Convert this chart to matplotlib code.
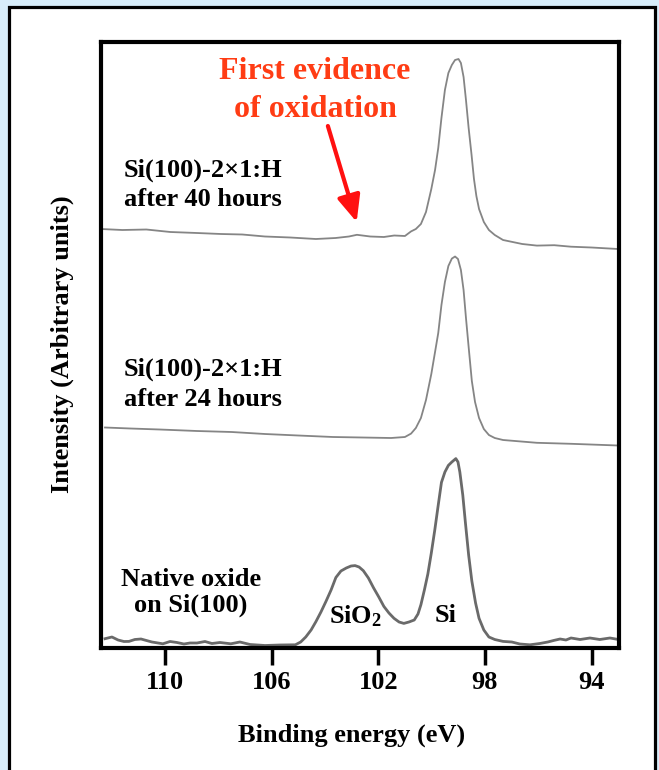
import numpy as np
import matplotlib.pyplot as plt
from matplotlib.patches import Rectangle

# XPS Si 2p spectra (intensidad en unidades arbitrarias)
ev_40h = [112.40, 111.60, 110.70, 109.80, 108.80, 107.90, 107.10, 106.25, 105.30,
          104.34, 103.60, 103.10, 102.80, 102.30, 101.79, 101.40, 101.00, 100.77,
          100.59, 100.40, 100.21, 100.01, 99.87, 99.75, 99.63, 99.50, 99.37,
          99.24, 99.12, 98.99, 98.90, 98.80, 98.71, 98.61, 98.50, 98.41, 98.32,
          98.22, 98.04, 97.85, 97.63, 97.32, 96.60, 96.05, 95.40, 94.77, 94.00, 93.01]
int_40h = [419, 418, 418.5, 416, 415, 414, 413.5, 411.5, 410.5,
           409, 410, 411.5, 413.2, 411.5, 411, 412.5, 412, 416.6,
           419, 424, 436, 459, 478, 500, 530, 558, 575,
           583, 588, 589, 585, 571, 548, 520, 493, 469, 452,
           439, 426, 418, 413, 408, 404, 402.4, 402.8, 401.3, 400.5, 399]

ev_24h = [112.25, 111.30, 110.20, 108.80, 107.50, 106.25, 105.00, 103.70, 102.60,
          101.52, 101.00, 100.77, 100.59, 100.40, 100.21, 100.01, 99.87, 99.75,
          99.63, 99.50, 99.37, 99.24, 99.12, 99.01, 98.90, 98.80, 98.71, 98.61,
          98.49, 98.37, 98.22, 98.04, 97.85, 97.63, 97.32, 96.05, 94.77, 93.01]
int_24h = [220.5, 219.5, 218.5, 217, 216, 214, 212.5, 211, 210.5,
           210, 211, 214.4, 220, 230, 248, 274, 296, 315,
           343, 366, 382, 389.4, 391.5, 389, 378, 358, 330, 301,
           267, 246, 230, 219, 213, 210, 208, 205.2, 204.2, 202.5]

ev_native = [112.25, 111.99, 111.76, 111.54, 111.35, 111.13, 110.90, 110.71, 110.49,
             110.26, 110.08, 109.81, 109.55, 109.29, 109.06, 108.80, 108.50, 108.24,
             107.94, 107.53, 107.19, 106.81, 106.25, 105.69, 105.11, 104.91, 104.72,
             104.52, 104.34, 104.15, 103.96, 103.77, 103.59, 103.40, 103.20, 103.02,
             102.87, 102.72, 102.56, 102.37, 102.18, 101.98, 101.79, 101.60, 101.41,
             101.22, 101.04, 100.85, 100.65, 100.51, 100.40, 100.27, 100.14, 100.01,
             99.88, 99.75, 99.63, 99.50, 99.37, 99.24, 99.09, 99.01, 98.94, 98.83,
             98.73, 98.61, 98.49, 98.35, 98.22, 98.04, 97.85, 97.63, 97.32, 96.99,
             96.69, 96.31, 95.94, 95.64, 95.41, 95.18, 94.96, 94.77, 94.43, 94.06,
             93.69, 93.31, 93.01]
int_native = [9.3, 11, 8, 6.5, 6.6, 8.5, 9, 7.6, 6,
              5, 4.2, 6.5, 5.5, 4, 5, 5, 6.5, 4.5,
              5.5, 4.2, 6, 3.5, 2.5, 3, 3.2, 6, 11,
              18, 26.3, 36, 46.7, 58, 70.5, 77, 80, 82,
              82.4, 81, 77.3, 70, 60.3, 51, 41.6, 35, 29.7,
              26, 24.6, 26, 28, 34, 43.3, 58, 74, 95,
              118, 143, 165.6, 176, 182.6, 186, 189.4, 186, 176, 153,
              125, 93, 67, 45, 29.7, 18, 11, 8.5, 6.6, 6,
              4, 3.2, 4.5, 6, 7.6, 9, 8, 10, 8.5, 10,
              8.5, 10, 8.6]

xticks = [110, 106, 102, 98, 94]

plt.rcParams['font.family'] = ['Liberation Serif', 'DejaVu Serif']
plt.rcParams['font.weight'] = 'bold'
plt.rcParams['mathtext.fontset'] = 'custom'
plt.rcParams['mathtext.rm'] = 'Liberation Serif:bold'
plt.rcParams['mathtext.it'] = 'Liberation Serif:bold'
plt.rcParams['mathtext.bf'] = 'Liberation Serif:bold'

fig = plt.figure(figsize=(6.59, 7.70), dpi=100, facecolor='#d7edfa')

# marco blanco con borde negro
fig.patches.append(Rectangle((9 / 659, -0.05), 646 / 659, 1.05 - 7 / 770,
                             transform=fig.transFigure, facecolor='white',
                             edgecolor='black', linewidth=2.3, zorder=-5))

ax = fig.add_axes([101 / 659, 1 - 648 / 770, 518 / 659, 606 / 770])
ax.set_zorder(2)

ax.plot(ev_40h, int_40h, color='#858585', lw=1.3, solid_joinstyle='round')
ax.plot(ev_24h, int_24h, color='#858585', lw=1.3, solid_joinstyle='round')
ax.plot(ev_native, int_native, color='#6a6a6a', lw=2.0, solid_joinstyle='round')

ax.set_xlim(112.40, 92.97)
ax.set_ylim(0, 606)
ax.set_xticks(xticks)
ax.set_xticklabels([str(t) for t in xticks])
ax.set_yticks([])
ax.tick_params(axis='x', direction='out', length=12, width=2.5, pad=4.5,
               labelsize=19)
for s in ax.spines.values():
    s.set_linewidth(3)

fs = 19
ax.text(111.54, 471.5, 'Si(100)-2\u00d71:H', fontsize=fs, va='baseline', ha='left')
ax.text(111.54, 442, 'after 40 hours', fontsize=fs, va='baseline', ha='left')
ax.text(111.54, 272, 'Si(100)-2\u00d71:H', fontsize=fs, va='baseline', ha='left')
ax.text(111.54, 242, 'after 24 hours', fontsize=fs, va='baseline', ha='left')
ax.text(109.03, 62, 'Native oxide', fontsize=fs, va='baseline', ha='center')
ax.text(109.03, 36.5, 'on Si(100)', fontsize=fs, va='baseline', ha='center')
ax.text(103.83, 24.6, r'SiO$_{\mathrm{2}}$', fontsize=fs, va='baseline', ha='left')
ax.text(99.88, 26.3, 'Si', fontsize=fs, va='baseline', ha='left')

ax.text(104.37, 568.5, 'First evidence', fontsize=23, color='#ff3c14',
        va='baseline', ha='center')
ax.text(104.37, 530.5, 'of oxidation', fontsize=23, color='#ff3c14',
        va='baseline', ha='center')
ax.annotate('', xy=(102.81, 426), xytext=(103.89, 522),
            arrowprops=dict(arrowstyle='-|>,head_length=1.6,head_width=0.7',
                            color='#ff1010', lw=3, shrinkA=0, shrinkB=0))

fig.text(352 / 659, 1 - 742 / 770, 'Binding energy (eV)', fontsize=fs,
         ha='center', va='baseline')
fig.text(62 / 659, 1 - 344 / 770, 'Intensity (Arbitrary units)', fontsize=fs,
         ha='center', va='center', rotation=90)

fig.savefig('out.png', dpi=100, facecolor=fig.get_facecolor())
